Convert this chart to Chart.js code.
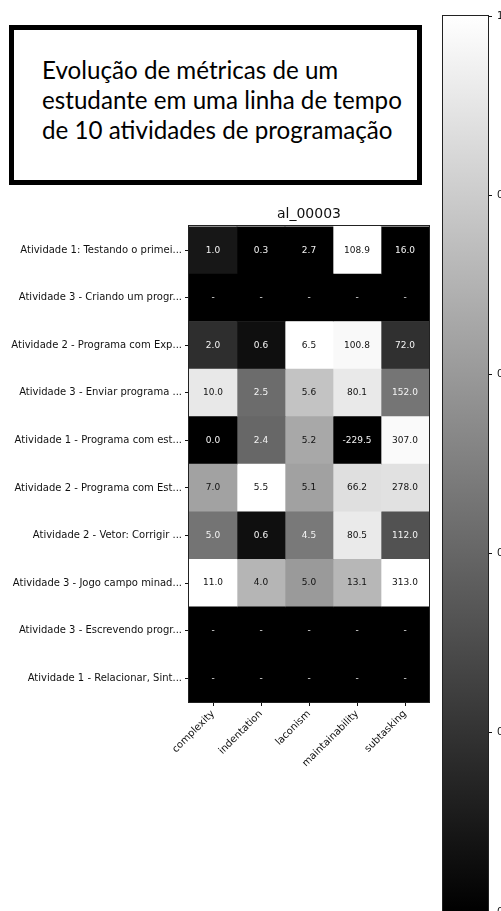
<!DOCTYPE html>
<html>
<head>
<meta charset="utf-8">
<script src="https://cdn.jsdelivr.net/npm/chart.js@4/dist/chart.umd.min.js"></script>
<style>
  html, body { margin: 0; padding: 0; width: 501px; height: 911px; overflow: hidden; background: #fff; }
  #titleBox {
    position: absolute; left: 9px; top: 25px; width: 413px; height: 160px;
    box-sizing: border-box; border: 5px solid #000; background: #fff;
    font-family: Lato, "Open Sans", sans-serif; color: #000;
    padding: 25px 0 0 28px; line-height: 30px; white-space: nowrap;
  }
  #heat { position: absolute; left: 0; top: 190px; }
  #cbar { position: absolute; left: 400px; top: 0; }
</style>
</head>
<body>
<div id="titleBox"><div id="titleText">Evolução de métricas de um<br>estudante em uma linha de tempo<br>de 10 atividades de programação</div></div>
<canvas id="heat" width="440" height="721"></canvas>
<canvas id="cbar" width="200" height="950"></canvas>
<script>
// Activities (rows, top to bottom) and metrics (columns)
const activities = [
  "Atividade 1: Testando o primei...",
  "Atividade 3 - Criando um progr...",
  "Atividade 2 - Programa com Exp...",
  "Atividade 3 - Enviar programa ...",
  "Atividade 1 - Programa com est...",
  "Atividade 2 - Programa com Est...",
  "Atividade 2 - Vetor: Corrigir ...",
  "Atividade 3 - Jogo campo minad...",
  "Atividade 3 - Escrevendo progr...",
  "Atividade 1 - Relacionar, Sint..."
];
const metrics = ["complexity", "indentation", "laconism", "maintainability", "subtasking"];

// Metric values per activity (null = no submission)
const complexity      = [1.0,   null, 2.0,   10.0,  0.0,    7.0,   5.0,   11.0,  null, null];
const indentation     = [0.3,   null, 0.6,   2.5,   2.4,    5.5,   0.6,   4.0,   null, null];
const laconism        = [2.7,   null, 6.5,   5.6,   5.2,    5.1,   4.5,   5.0,   null, null];
const maintainability = [108.9, null, 100.8, 80.1,  -229.5, 66.2,  80.5,  13.1,  null, null];
const subtasking      = [16.0,  null, 72.0,  152.0, 307.0,  278.0, 112.0, 313.0, null, null];

const heatTitle = "al_00003";
const colorbarTicks = [0, 0.2, 0.4, 0.6, 0.8, 1.0];

const columns = [complexity, indentation, laconism, maintainability, subtasking];

// Fit the headline to its box width
(function () {
  const el = document.getElementById('titleText');
  const c = document.createElement('canvas').getContext('2d');
  c.font = '100px Lato';
  const w = c.measureText('estudante em uma linha de tempo').width;
  el.style.fontSize = (100 * 360 / w).toFixed(2) + 'px';
})();

// Each column is scaled to its own min..max on a gray ramp
function norm(v, arr) {
  const vals = arr.filter(x => x !== null);
  const lo = Math.min(...vals), hi = Math.max(...vals);
  return hi === lo ? 0 : (v - lo) / (hi - lo);
}
function grayOf(t) {
  const g = Math.round(255 * Math.max(0, Math.min(1, t)));
  return `rgb(${g},${g},${g})`;
}

Chart.defaults.font.family = "'DejaVu Sans', sans-serif";
Chart.defaults.color = '#111';
Chart.defaults.animation = false;

const datasets = columns.map((vals, j) => ({
  label: metrics[j],
  data: vals.map(() => 1),
  raw: vals,
  backgroundColor: vals.map(v => v === null ? '#000' : grayOf(norm(v, vals))),
  borderWidth: 0,
  barPercentage: 1,
  categoryPercentage: 1
}));

const cellLabels = {
  id: 'cellLabels',
  afterDatasetsDraw(chart) {
    const c = chart.ctx;
    c.save();
    c.font = "9px 'DejaVu Sans'";
    c.textAlign = 'center';
    c.textBaseline = 'middle';
    chart.data.datasets.forEach((ds, d) => {
      const meta = chart.getDatasetMeta(d);
      meta.data.forEach((el, i) => {
        const v = ds.raw[i];
        const p = el.getCenterPoint();
        let txt, col;
        if (v === null) { txt = '-'; col = '#eee'; }
        else {
          txt = v.toFixed(1);
          col = norm(v, ds.raw) < 0.5 ? '#f4f4f4' : '#111';
        }
        c.fillStyle = col;
        c.fillText(txt, p.x, p.y);
      });
    });
    c.restore();
  }
};

const frame = {
  id: 'frame',
  afterDraw(chart) {
    const a = chart.chartArea, c = chart.ctx;
    c.save();
    c.strokeStyle = '#222';
    c.lineWidth = 1;
    c.strokeRect(Math.round(a.left) - 0.5, Math.round(a.top) - 0.5,
                 Math.round(a.right - a.left) + 1, Math.round(a.bottom - a.top) + 1);
    c.restore();
  }
};

new Chart(document.getElementById('heat'), {
  type: 'bar',
  data: { labels: activities, datasets },
  options: {
    indexAxis: 'y',
    responsive: false,
    devicePixelRatio: 1,
    layout: { padding: { left: 0, right: 11, top: 0, bottom: 0 } },
    plugins: {
      legend: { display: false },
      tooltip: { enabled: false },
      title: {
        display: true, text: heatTitle, fullSize: false,
        font: { size: 14, weight: 'normal' }, color: '#111',
        padding: { top: 16, bottom: 3.6 }
      }
    },
    scales: {
      x: {
        type: 'linear', stacked: true, min: 0, max: metrics.length,
        afterBuildTicks: s => { s.ticks = metrics.map((m, i) => ({ value: i + 0.5 })); },
        afterFit: s => { s.height = 209; },
        ticks: {
          autoSkip: false, minRotation: 45, maxRotation: 45, padding: 2,
          font: { size: 10 }, color: '#111',
          callback: (v, i) => metrics[i]
        },
        grid: { drawOnChartArea: false, drawTicks: true, tickLength: 4, color: '#111' },
        border: { display: false }
      },
      y: {
        type: 'category', stacked: true,
        afterFit: s => { s.width = 189; },
        ticks: { autoSkip: false, padding: 3, font: { size: 10 }, color: '#111' },
        grid: { drawOnChartArea: false, drawTicks: true, tickLength: 4, color: '#111', offset: false },
        border: { display: false }
      }
    }
  },
  plugins: [cellLabels, frame]
});

// Colour bar: gray ramp from 0 (black) to 1 (white)
const cbFrame = {
  id: 'cbFrame',
  afterDraw(chart) {
    const a = chart.chartArea, c = chart.ctx;
    c.save();
    c.strokeStyle = '#222';
    c.lineWidth = 1;
    c.strokeRect(Math.round(a.left) - 0.5, Math.round(a.top) - 0.5,
                 Math.round(a.right - a.left) + 1, Math.round(a.bottom - a.top) + 1);
    c.restore();
  }
};

new Chart(document.getElementById('cbar'), {
  type: 'bar',
  data: {
    labels: [''],
    datasets: [{
      data: [1],
      borderWidth: 0,
      barPercentage: 1,
      categoryPercentage: 1,
      backgroundColor: (ctx) => {
        const chart = ctx.chart;
        if (!chart.chartArea) return '#888';
        const ys = chart.scales.y;
        const g = chart.ctx.createLinearGradient(0, ys.getPixelForValue(0), 0, ys.getPixelForValue(1));
        g.addColorStop(0, '#000');
        g.addColorStop(1, '#fff');
        return g;
      }
    }]
  },
  options: {
    responsive: false,
    devicePixelRatio: 1,
    layout: { padding: { left: 43, right: 0, top: 16, bottom: 38 } },
    plugins: { legend: { display: false }, tooltip: { enabled: false } },
    scales: {
      x: { display: false },
      y: {
        position: 'right', min: 0, max: 1,
        afterBuildTicks: s => { s.ticks = colorbarTicks.map(v => ({ value: v })); },
        afterFit: s => { s.width = 112; },
        ticks: { padding: 5, font: { size: 10 }, color: '#111', callback: v => v.toFixed(1) },
        grid: { drawOnChartArea: false, drawTicks: true, tickLength: 4, color: '#111' },
        border: { display: false }
      }
    }
  },
  plugins: [cbFrame]
});
</script>
</body>
</html>
